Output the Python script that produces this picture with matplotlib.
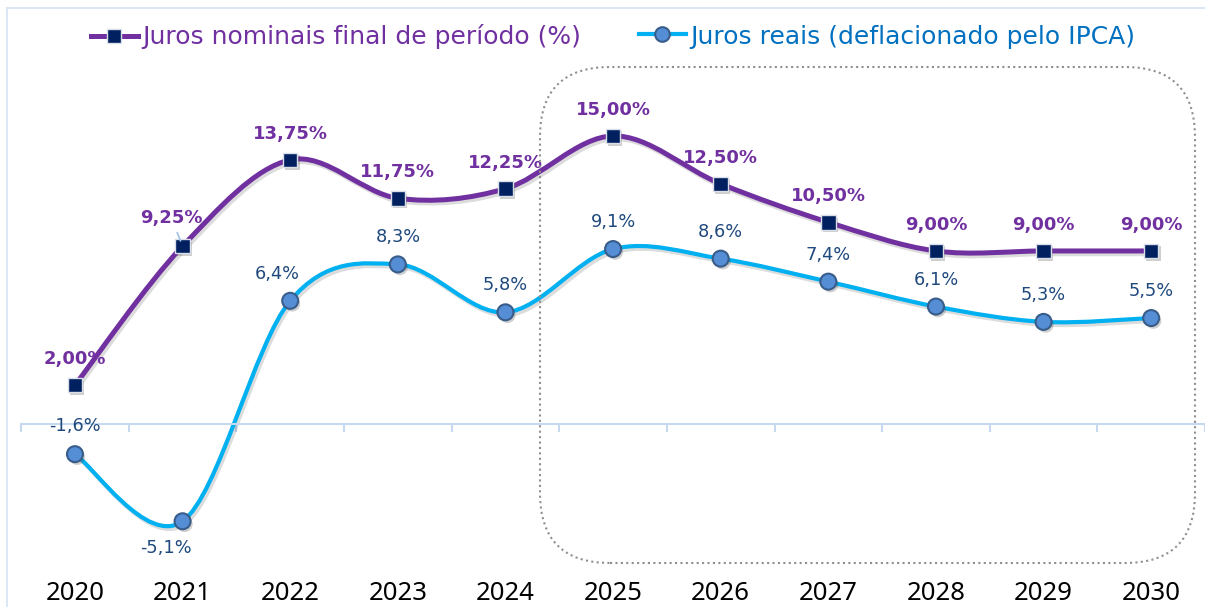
import numpy as np
import matplotlib
matplotlib.use("Agg")
import matplotlib.pyplot as plt
from matplotlib.path import Path
from matplotlib.patches import PathPatch, FancyBboxPatch
from matplotlib.lines import Line2D
import matplotlib.transforms as mtrans
import matplotlib.patheffects as pe

# ---------------- data ----------------
years = ["2020", "2021", "2022", "2023", "2024", "2025", "2026", "2027", "2028", "2029", "2030"]
nominal = [2.00, 9.25, 13.75, 11.75, 12.25, 15.00, 12.50, 10.50, 9.00, 9.00, 9.00]
real = [-1.6, -5.1, 6.4, 8.3, 5.8, 9.1, 8.6, 7.4, 6.1, 5.3, 5.5]
legend_labels = ["Juros nominais final de período (%)", "Juros reais (deflacionado pelo IPCA)"]

# ---------------- style ----------------
PURPLE = "#7030A0"
NAVY = "#002060"
CYAN = "#00B0F0"
CIRCLE_FACE = "#558ED5"
CIRCLE_EDGE = "#385D8A"
REAL_TXT = "#1F497D"
LEGEND2_TXT = "#0070C0"
AXIS_CLR = "#C6D9F1"

W, H = 1205, 607
fig = plt.figure(figsize=(W / 100, H / 100), dpi=100)
fig.patch.set_facecolor("white")
px = mtrans.Affine2D().scale(1 / 100) + fig.dpi_scale_trans  # pixel coords (origin bottom-left)

ax = fig.add_axes([0, 0, 1, 1])
ax.set_facecolor("none")
x = np.arange(len(years))
xs = (1152 - 75) / 10.0
ys = 19.17
ax.set_xlim(-75 / xs, 10 + (W - 1152) / xs)
ax.set_ylim(-(H - 423.5) / ys, 423.5 / ys)

for s in ["top", "right", "left"]:
    ax.spines[s].set_visible(False)
ax.spines["bottom"].set_position(("data", 0))
ax.spines["bottom"].set_bounds(-0.5, 10.5)
ax.spines["bottom"].set_color(AXIS_CLR)
ax.spines["bottom"].set_linewidth(1.5)
ax.set_yticks([])
ax.set_xticks(x, labels=years)
ax.set_xticks(np.arange(-0.5, 11, 1.0), minor=True)
ax.tick_params(axis="x", which="major", length=0, pad=113.5, labelsize=18.5, labelcolor="black")
for t in ax.get_xticklabels():
    t.set_fontfamily("Noto Sans")
ax.tick_params(axis="x", which="minor", length=6, width=1.5, color=AXIS_CLR, direction="out")


def smooth_path(xv, yv):
    pts = np.column_stack([xv, yv]).astype(float)
    n = len(pts)
    verts = [pts[0]]
    codes = [Path.MOVETO]
    for i in range(n - 1):
        p0 = pts[i - 1] if i > 0 else pts[i]
        p1 = pts[i]
        p2 = pts[i + 1]
        p3 = pts[i + 2] if i + 2 < n else pts[i + 1]
        c1 = p1 + (p2 - p0) / 6.0
        c2 = p2 - (p3 - p1) / 6.0
        verts += [c1, c2, p2]
        codes += [Path.CURVE4] * 3
    return Path(verts, codes)


shadow = [pe.SimpleLineShadow(offset=(1.5, -2), alpha=0.18, shadow_color="#404040"), pe.Normal()]

real_line = PathPatch(smooth_path(x, real), fill=False, ec=CYAN, lw=3.0,
                      transform=ax.transData, path_effects=shadow, zorder=2, capstyle="round")
ax.add_patch(real_line)
nom_line = PathPatch(smooth_path(x, nominal), fill=False, ec=PURPLE, lw=3.6,
                     transform=ax.transData, path_effects=shadow, zorder=3, capstyle="round")
ax.add_patch(nom_line)

mshadow = [pe.SimplePatchShadow(offset=(1.5, -2), alpha=0.25, shadow_rgbFace="#404040"), pe.Normal()]
ax.plot(x, real, ls="none", marker="o", ms=11.5, mfc=CIRCLE_FACE, mec=CIRCLE_EDGE, mew=1.5,
        zorder=4, path_effects=mshadow)
ax.plot(x, nominal, ls="none", marker="s", ms=10.5, mfc=NAVY, mec="#D9DEE8", mew=1.0,
        zorder=5, path_effects=mshadow)

# ---------------- data labels ----------------
nom_off = [(0, 21)] * len(nominal)
nom_off = list(nom_off)
nom_off[1] = (-11, 23)
for i, (v, off) in enumerate(zip(nominal, nom_off)):
    lab = f"{v:.2f}%".replace(".", ",")
    kw = dict(xytext=off, textcoords="offset pixels", ha="center", va="baseline",
              fontsize=13, fontweight="bold", color=PURPLE, zorder=6)
    if i == 1:
        kw["arrowprops"] = dict(arrowstyle="-", color="#9DC3E6", lw=1.2, shrinkA=2, shrinkB=4)
    ax.annotate(lab, (x[i], v), **kw)

real_off = [(0, 22)] * len(real)
real_off = list(real_off)
real_off[0] = (0, 23)
real_off[1] = (-17, -32)
real_off[2] = (-13, 22)
for i, (v, off) in enumerate(zip(real, real_off)):
    lab = f"{v:.1f}%".replace(".", ",")
    ax.annotate(lab, (x[i], v), xytext=off, textcoords="offset pixels",
                ha="center", va="baseline", fontsize=12.8, color=REAL_TXT, zorder=6)

# ---------------- highlight box (projection period) ----------------
box = FancyBboxPatch((540, H - 563), 655, 496, boxstyle="round,pad=0,rounding_size=70",
                     transform=px, fill=False, ec="#8F8F8F", lw=1.5, ls=(0, (1, 1.6)), zorder=1)
fig.add_artist(box)

# ---------------- chart frame ----------------
fig.add_artist(Line2D([7, W], [H - 8, H - 8], transform=px, color="#D6E3F3", lw=1.2))
fig.add_artist(Line2D([7, 7], [0, H - 8], transform=px, color="#D6E3F3", lw=1.2))

# ---------------- legend (manual) ----------------
ly1 = H - 36
fig.add_artist(Line2D([91, 138], [ly1, ly1], transform=px, color=PURPLE, lw=3.6))
fig.add_artist(Line2D([114], [ly1], transform=px, ls="none", marker="s", ms=9.5, mfc=NAVY,
                      mec="#D9DEE8", mew=1.0))
fig.text(142, H - 44, legend_labels[0], transform=px, fontsize=18, color=PURPLE,
         ha="left", va="baseline")
ly2 = H - 34
fig.add_artist(Line2D([639, 686], [ly2, ly2], transform=px, color=CYAN, lw=3.0))
fig.add_artist(Line2D([662], [ly2], transform=px, ls="none", marker="o", ms=10.5, mfc=CIRCLE_FACE,
                      mec=CIRCLE_EDGE, mew=1.5))
fig.text(690, H - 44, legend_labels[1], transform=px, fontsize=18, color=LEGEND2_TXT,
         ha="left", va="baseline")

fig.savefig("out.png", dpi=100, facecolor="white")
